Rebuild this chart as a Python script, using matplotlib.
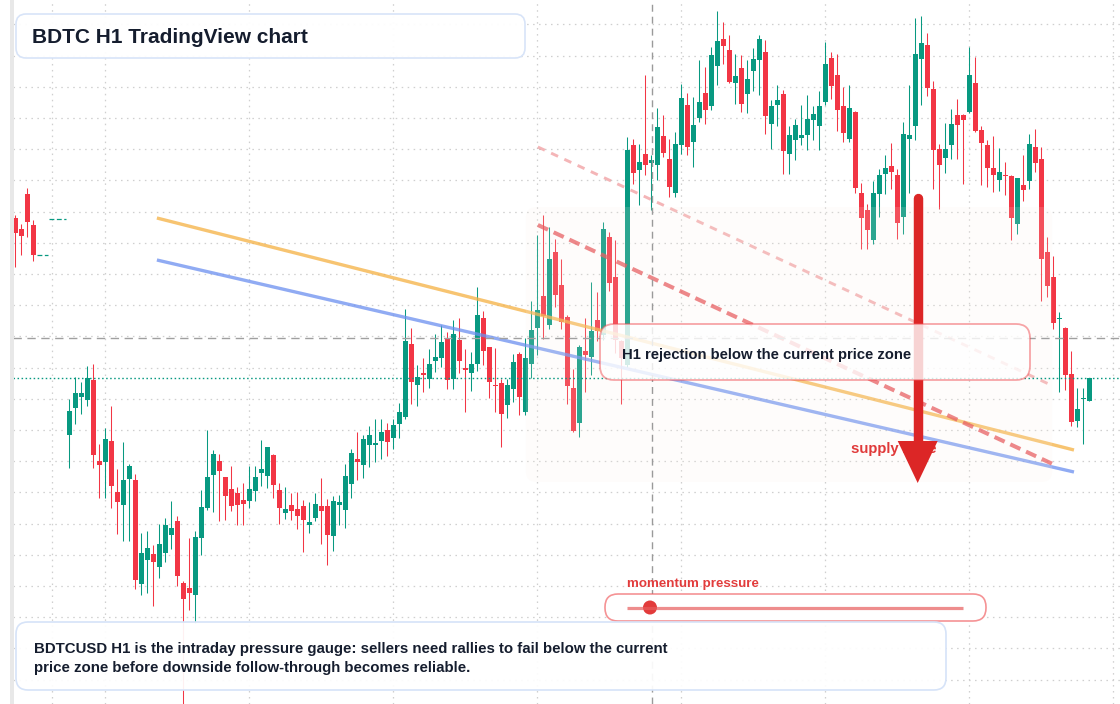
import numpy as np
import matplotlib.pyplot as plt
from matplotlib.patches import FancyBboxPatch, Polygon, Rectangle, Circle

plt.rcParams['font.family'] = ['Liberation Sans', 'DejaVu Sans']
plt.rcParams['lines.scale_dashes'] = False

# ---- H1 candles (price units) ----
# first four candles sit before a gap of five missing bars
left_idx = [-9, -8, -7, -6]

opens = [48.6, 47.5, 51.0, 47.9,
         26.9, 29.6, 30.7, 30.4, 32.4, 24.3, 24.2, 26.3, 21.2, 19.9,
         22.5, 22.4, 12.0, 14.4, 15.0, 13.7, 15.1, 16.9, 18.3, 12.1,
         11.6, 10.9, 16.6, 19.6, 22.9, 24.3, 22.7, 21.5, 21.1, 20.4,
         20.3, 21.3, 23.1, 22.8, 24.9, 21.4, 19.1, 19.9, 19.5, 19.8,
         17.9, 18.6, 19.8, 19.8, 16.8, 19.9, 19.4, 22.0, 24.5, 23.9,
         25.9, 25.9, 26.3, 27.4, 26.6, 28.0, 28.7, 36.0, 31.9, 33.1,
         32.5, 34.3, 34.6, 36.5, 32.5, 36.4, 33.6, 33.1, 34.0, 38.6,
         35.7, 31.9, 32.1, 29.9, 31.5, 35.0, 29.2, 34.0, 37.6, 40.8,
         37.9, 45.2, 41.9, 38.7, 31.6, 28.1, 35.3, 34.7, 38.4, 36.9,
         46.7, 42.7, 36.3, 33.9, 55.9, 53.4, 55.0, 54.1, 53.9, 56.8,
         54.5, 51.1, 55.9, 59.9, 56.2, 58.6, 61.1, 59.8, 63.8, 66.5,
         65.4, 62.1, 63.6, 61.0, 63.3, 64.4, 65.2, 58.0, 59.9, 61.0,
         55.0, 56.4, 56.6, 56.9, 58.4, 57.8, 60.2, 64.6, 62.9, 59.8,
         56.5, 59.2, 51.1, 49.4, 46.4, 51.0, 53.0, 53.8, 52.9, 48.7,
         56.5, 57.8, 64.5, 65.9, 61.5, 55.5, 54.6, 55.9, 58.9, 58.9,
         59.2, 62.1, 57.4, 55.9, 53.6, 52.4, 52.9, 52.8, 48.0, 51.9,
         52.3, 55.7, 54.5, 45.2, 42.7, 38.5, 37.6, 33.0, 28.3, 30.5, 30.3]

highs = [48.9, 48.0, 51.6, 48.4,
         30.5, 32.7, 32.2, 33.8, 34.0, 26.0, 27.6, 29.8, 23.5, 26.2,
         24.0, 23.0, 17.1, 17.3, 15.9, 18.0, 18.6, 20.3, 18.8, 12.3,
         16.6, 17.3, 21.4, 27.4, 25.4, 25.0, 22.7, 23.8, 21.7, 22.1,
         23.8, 23.8, 26.4, 25.7, 25.0, 22.1, 21.7, 21.1, 21.2, 20.4,
         20.2, 21.1, 22.6, 20.5, 20.8, 20.9, 24.0, 25.5, 27.2, 26.9,
         27.8, 28.5, 28.5, 28.1, 28.5, 30.1, 39.5, 37.6, 33.9, 34.6,
         35.5, 37.0, 37.9, 37.2, 38.4, 38.6, 35.5, 35.2, 41.7, 39.3,
         35.7, 35.6, 32.5, 32.5, 35.0, 35.2, 36.6, 40.3, 46.9, 48.9,
         47.7, 46.5, 44.5, 38.9, 33.5, 35.9, 38.6, 42.2, 41.2, 48.2,
         47.2, 46.4, 36.4, 56.7, 56.5, 56.0, 62.9, 54.9, 59.6, 58.9,
         56.5, 57.2, 62.0, 61.1, 60.7, 64.4, 63.7, 65.7, 69.3, 68.2,
         66.9, 65.0, 64.9, 64.4, 65.6, 66.9, 66.4, 60.4, 61.9, 61.4,
         57.8, 58.5, 59.9, 60.9, 59.8, 61.3, 66.2, 65.2, 65.0, 61.7,
         61.9, 59.3, 52.1, 50.0, 52.3, 53.5, 54.9, 56.1, 53.5, 58.2,
         61.9, 68.6, 68.8, 67.1, 62.3, 56.0, 58.1, 59.5, 60.5, 59.0,
         65.7, 64.7, 57.8, 56.4, 56.8, 55.6, 54.2, 52.9, 52.6, 54.9,
         57.0, 57.5, 55.7, 46.7, 44.8, 39.2, 37.7, 35.3, 31.6, 31.6, 32.6]

lows = [43.7, 44.9, 46.7, 44.3,
        23.6, 28.0, 29.0, 29.8, 23.6, 20.6, 20.6, 19.6, 17.0, 16.3,
        16.3, 11.5, 10.9, 11.1, 9.8, 12.6, 14.2, 15.5, 11.8, 0.0,
        9.4, 8.1, 14.9, 19.4, 19.2, 18.3, 18.4, 19.3, 17.9, 17.9,
        19.6, 20.3, 21.8, 21.6, 20.6, 18.0, 18.5, 18.4, 17.5, 15.2,
        17.1, 18.3, 16.0, 13.9, 15.3, 17.9, 17.6, 20.6, 22.4, 22.6,
        23.7, 24.2, 24.5, 24.8, 25.5, 26.6, 28.5, 30.0, 29.8, 31.2,
        31.6, 33.2, 33.7, 31.5, 31.5, 33.1, 29.2, 31.3, 33.3, 33.9,
        30.6, 29.2, 25.7, 28.6, 30.2, 28.9, 28.9, 32.6, 34.9, 36.5,
        37.5, 39.7, 37.5, 30.0, 27.2, 26.7, 31.2, 32.9, 36.3, 36.4,
        41.3, 35.1, 30.0, 33.7, 52.0, 49.9, 52.9, 49.4, 52.4, 54.7,
        50.7, 50.7, 55.0, 54.9, 53.7, 58.2, 58.0, 59.4, 61.9, 64.0,
        62.1, 60.0, 59.2, 59.1, 61.3, 60.9, 57.0, 55.5, 57.8, 53.0,
        53.0, 54.4, 55.9, 55.4, 56.4, 55.4, 59.9, 60.5, 57.3, 56.2,
        56.2, 51.1, 45.5, 45.5, 46.0, 48.7, 51.0, 51.5, 46.5, 47.0,
        51.1, 56.4, 59.9, 60.8, 51.5, 49.5, 53.1, 54.5, 54.5, 52.0,
        59.1, 57.2, 51.9, 51.7, 51.2, 51.3, 50.9, 46.4, 47.0, 50.3,
        51.5, 53.2, 40.3, 40.7, 37.5, 31.2, 31.4, 27.8, 27.7, 26.0, 30.3]

closes = [47.1, 46.8, 48.2, 44.9,
          29.3, 31.1, 31.1, 32.6, 24.9, 23.9, 26.5, 21.8, 20.2, 22.4,
          23.8, 12.4, 15.1, 15.6, 14.2, 16.0, 17.9, 17.6, 12.8, 10.5,
          11.1, 16.7, 19.7, 22.7, 25.0, 23.3, 20.8, 19.8, 19.9, 20.0,
          21.5, 22.7, 23.5, 25.7, 21.9, 19.6, 19.5, 19.3, 18.8, 18.4,
          18.2, 20.0, 19.3, 16.9, 20.3, 20.2, 22.8, 25.1, 24.2, 26.5,
          26.9, 26.1, 27.2, 26.2, 27.9, 29.2, 36.3, 32.2, 32.7, 32.9,
          34.0, 34.7, 36.2, 32.4, 37.0, 34.3, 33.4, 34.0, 38.9, 35.3,
          32.2, 31.8, 29.0, 31.9, 34.2, 30.7, 34.6, 37.4, 39.4, 38.8,
          44.5, 40.9, 38.2, 31.8, 27.3, 35.7, 34.9, 37.3, 37.3, 47.5,
          42.1, 36.4, 34.6, 55.4, 53.1, 54.2, 53.9, 54.4, 57.7, 55.1,
          51.7, 56.0, 60.6, 55.7, 57.9, 60.2, 59.4, 64.9, 66.3, 65.8,
          62.2, 62.8, 60.0, 62.5, 64.5, 66.5, 58.8, 59.8, 60.4, 55.3,
          56.9, 57.9, 56.9, 58.5, 59.0, 59.8, 64.0, 61.8, 59.4, 57.1,
          59.6, 51.6, 48.6, 47.4, 51.1, 52.9, 53.6, 53.2, 48.1, 57.0,
          56.9, 65.0, 66.1, 61.6, 55.4, 53.9, 55.5, 58.0, 57.9, 58.4,
          62.9, 57.3, 56.1, 53.6, 52.9, 53.2, 52.8, 48.6, 52.6, 51.4,
          56.0, 54.1, 44.5, 41.8, 38.1, 38.6, 32.9, 28.2, 29.5, 30.6, 32.6]

# ---- drawn objects (bar index, price) ----
orange_line = ([14.6, 167.45], [48.6, 25.4])
blue_line = ([14.6, 167.45], [44.4, 23.2])
faint_dash = ([78.1, 163.6], [55.7, 31.9])
red_dash = ([78.1, 163.9], [47.9, 24.0])
zone_x = (76.1, 163.8)
zone_y = (22.2, 49.7)
arrow_i = 141.4
arrow_top, arrow_tip = 50.6, 22.1
crosshair_i, crosshair_p = 97.1, 36.6
level_marks = [((-3.4, -0.55), 48.5), ((-5.4, -3.5), 44.9)]

GREEN = '#089981'
RED = '#f23645'

fig = plt.figure(figsize=(11.2, 7.04), dpi=100)
fig.patch.set_facecolor('white')
ax = fig.add_axes([0, 0, 1, 1])
ax.set_xlim(-11.55, 175.12)
ax.set_ylim(0, 70.4)
ax.axis('off')

# grid: daily verticals every 24 bars, price grid
grid_x = [-2.9] + list(range(6, 175, 24))
grid_y = 67.97 - 3.12 * np.arange(22)
ax.vlines(grid_x, 0, 70.4, colors='#cfcfcf', lw=0.9, linestyles=(0, (1.1, 3.2)), zorder=0.5)
ax.hlines(grid_y, -9.3, 175.12, colors='#cfcfcf', lw=0.9, linestyles=(0, (1.1, 3.2)), zorder=0.5)

idx = np.array(left_idx + list(range(len(opens) - 4)))
o, h, l, c = (np.array(v) for v in (opens, highs, lows, closes))
col = np.where(c >= o, GREEN, RED)
ax.vlines(idx, l, h, colors=col, lw=0.75, zorder=2)
ax.bar(idx, np.maximum(np.abs(c - o), 0.12), bottom=np.minimum(o, c), width=0.8,
       color=col, linewidth=0, zorder=2.1)

for (x0, x1), p in level_marks:
    ax.plot([x0, x1], [p, p], color=GREEN, lw=0.9, ls=(0, (3.5, 1.8)), zorder=2)

# trend lines
ax.plot(*orange_line, color='#f5b041', alpha=0.75, lw=2.4, solid_capstyle='butt', zorder=3)
ax.plot(*blue_line, color='#6b8ff0', alpha=0.75, lw=2.4, solid_capstyle='butt', zorder=3)
ax.plot(*faint_dash, color='#e5484d', alpha=0.4, lw=2.1, ls=(0, (5.5, 5)), zorder=3)
ax.plot(*red_dash, color='#e5484d', alpha=0.75, lw=2.9, ls=(0, (8, 4.5)), zorder=3)

# supply zone overlay
zone = FancyBboxPatch((zone_x[0], zone_y[0]), zone_x[1] - zone_x[0], zone_y[1] - zone_y[0],
                      boxstyle='round,pad=0,rounding_size=1.7', mutation_aspect=0.6,
                      facecolor=(0.98, 0.94, 0.90), alpha=0.15, linewidth=0, zorder=4)
ax.add_patch(zone)

# price lines + crosshair
ax.axvline(crosshair_i, color='#9a9a9a', lw=1.0, ls=(0, (5, 3.6)), zorder=4.5)
ax.hlines(crosshair_p, -9.3, 175.12, colors='#a0a0a0', lw=1.0, linestyles=(0, (6, 4)), zorder=4.5)
ax.hlines(c[-1], -9.3, 175.12, colors=GREEN, lw=1.0, linestyles=(0, (1.1, 1.8)), zorder=4.5)

ax.text(130.3, 25.07, 'supply zone', color='#e03a3a', fontsize=10.7, fontweight='bold',
        va='baseline', ha='left', zorder=5)

# downside arrow
head_len, head_hw = 4.2, 3.33
ax.plot([arrow_i, arrow_i], [arrow_top, arrow_tip + head_len], color='#dc2626', lw=6.8,
        solid_capstyle='round', zorder=6)
ax.add_patch(Polygon([(arrow_i - head_hw, arrow_tip + head_len), (arrow_i + head_hw, arrow_tip + head_len),
                      (arrow_i, arrow_tip)], closed=True, facecolor='#dc2626', edgecolor='none', zorder=6))

# ---- overlay in pixel units for panels ----
ov = fig.add_axes([0, 0, 1, 1], zorder=5)
ov.set_xlim(0, 1120)
ov.set_ylim(704, 0)
ov.axis('off')

ov.add_patch(Rectangle((10, 0), 3.5, 704, facecolor='#e8e8e8', edgecolor='none'))


def panel(x0, y0, x1, y1, r, face, edge, lw=1.2):
    ov.add_patch(FancyBboxPatch((x0, y0), x1 - x0, y1 - y0,
                                boxstyle=f'round,pad=0,rounding_size={r}',
                                facecolor=face, edgecolor=edge, linewidth=lw))


TXT = '#151d2e'
panel(16, 14, 525, 58, 10, (1, 1, 1, 0.96), '#d8e4f8')
ov.text(32, 42.7, 'BDTC H1 TradingView chart', fontsize=15, fontweight='bold', color=TXT, va='baseline')

panel(600, 324, 1030, 380, 14, (1, 1, 1, 0.8), (0.94, 0.3, 0.32, 0.5), lw=1.3)
ov.text(622, 359, 'H1 rejection below the current price zone', fontsize=10.75, fontweight='bold',
        color=TXT, va='baseline')

panel(605, 594, 986, 621, 13, 'white', (0.94, 0.35, 0.36, 0.65), lw=1.2)
ov.text(627, 586.7, 'momentum pressure', fontsize=9.6, fontweight='bold', color='#e23c3c', va='baseline')
ov.plot([627, 963], [607.5, 607.5], color='#e85d5d', alpha=0.7, lw=2.3, solid_capstyle='butt')
ov.add_patch(Circle((650, 607.5), 7, facecolor='#e23b3b', edgecolor='none'))

panel(16, 622, 946, 690, 12, (1, 1, 1, 0.93), '#d6e3f8')
ov.text(34, 653.3, 'BDTCUSD H1 is the intraday pressure gauge: sellers need rallies to fail below the current',
        fontsize=10.8, fontweight='bold', color=TXT, va='baseline')
ov.text(34, 672.3, 'price zone before downside follow-through becomes reliable.',
        fontsize=10.8, fontweight='bold', color=TXT, va='baseline')

fig.savefig('out.png', dpi=100)
